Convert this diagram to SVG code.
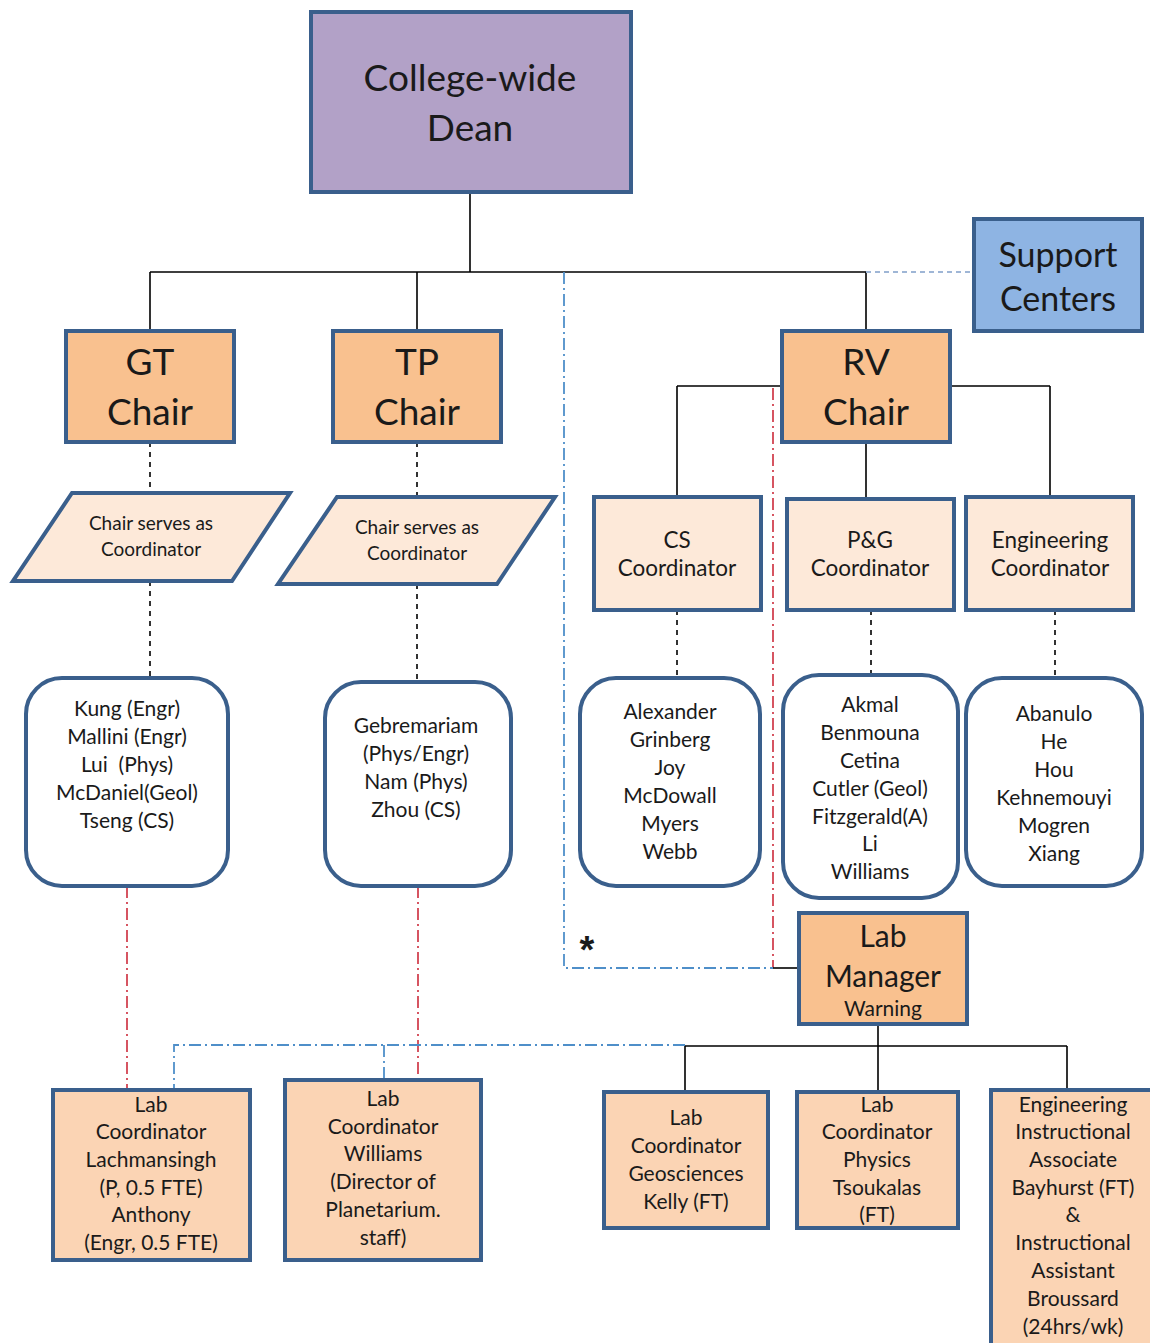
<svg xmlns="http://www.w3.org/2000/svg" width="1150" height="1343" viewBox="0 0 1150 1343">
  <style>
    text { font-family: Lato, "Open Sans", "Liberation Sans", sans-serif; fill: #1a1a1a; text-anchor: middle; dominant-baseline: central; }
    .box { stroke: #3a5f8c; stroke-width: 4; }
    .dean { fill: #b2a1c7; }
    .support { fill: #8eb4e3; }
    .chair { fill: #f9c18f; }
    .coord { fill: #fde9d9; }
    .lab { fill: #fbd4b4; }
    .list { fill: #ffffff; }
    .t34 { font-size: 37px; }
    .t36 { font-size: 37px; }
    .t32 { font-size: 34px; }
    .t30 { font-size: 30px; }
    .t22 { font-size: 22.5px; }
    .t21 { font-size: 21px; }
    .t17 { font-size: 19px; }
    .solid { stroke: #000; stroke-width: 1.6; fill: none; }
    .dash { stroke: #000; stroke-width: 1.6; fill: none; stroke-dasharray: 5 5; }
    .blue { stroke: #4f8fc9; stroke-width: 1.8; fill: none; stroke-dasharray: 12 4 2 4; }
    .bluedash { stroke: #9fb6d6; stroke-width: 2; fill: none; stroke-dasharray: 5 4; }
    .red { stroke: #cc2b3b; stroke-width: 1.6; fill: none; stroke-dasharray: 12 4 2 4; }
  </style>

  <!-- connectors -->
  <g id="connectors">
    <path class="solid" d="M470 192 V272 M150 272 H866 M150 272 V331 M417 272 V331 M866 272 V331"/>
    <path class="bluedash" d="M866 272 H974"/>
    <path class="solid" d="M677 386 H782 M950 386 H1050 M677 386 V497 M1050 386 V497 M866 442 V499"/>
    <path class="dash" d="M150 442 V493 M150 581 V678 M417 442 V497 M417 584 V682"/>
    <path class="dash" d="M677 610 V678 M871 610 V675 M1055 610 V678"/>
    <path class="red" d="M127 886 V1090 M418 886 V1085 M773 388 V968"/>
    <path class="blue" d="M564 272 V968 H773"/>
    <path class="solid" d="M773 968 H799"/>
    <path class="blue" d="M685 1045 H174 V1090 M384 1045 V1080"/>
    <path class="solid" d="M878 1013 V1092 M685 1046 H1067 M685 1046 V1092 M1067 1046 V1090"/>
  </g>

  <text x="587" y="950" style="font-size:38px;font-weight:bold;font-family:'Liberation Sans',sans-serif">*</text>

  <g id="dean">
    <rect class="box dean" x="311" y="12" width="320" height="180"/>
    <text class="t34" x="470" y="76">College-wide</text>
    <text class="t34" x="470" y="126">Dean</text>
  </g>

  <g id="support-centers">
    <rect class="box support" x="974" y="219" width="168" height="112"/>
    <text class="t32" x="1058" y="253">Support</text>
    <text class="t32" x="1058" y="297">Centers</text>
  </g>

  <g id="gt-chair">
    <rect class="box chair" x="66" y="331" width="168" height="111"/>
    <text class="t36" x="150" y="360">GT</text>
    <text class="t36" x="150" y="410">Chair</text>
  </g>
  <g id="tp-chair">
    <rect class="box chair" x="333" y="331" width="168" height="111"/>
    <text class="t36" x="417" y="360">TP</text>
    <text class="t36" x="417" y="410">Chair</text>
  </g>
  <g id="rv-chair">
    <rect class="box chair" x="782" y="331" width="168" height="111"/>
    <text class="t36" x="866" y="360">RV</text>
    <text class="t36" x="866" y="410">Chair</text>
  </g>

  <g id="gt-coordinator">
    <polygon class="box coord" points="72,493 290,493 232,581 13,581"/>
    <text class="t17" x="151" y="522">Chair serves as</text>
    <text class="t17" x="151" y="548">Coordinator</text>
  </g>
  <g id="tp-coordinator">
    <polygon class="box coord" points="337,497 555,497 497,584 278,584"/>
    <text class="t17" x="417" y="526">Chair serves as</text>
    <text class="t17" x="417" y="552">Coordinator</text>
  </g>

  <g id="cs-coordinator">
    <rect class="box coord" x="594" y="497" width="167" height="113"/>
    <text class="t22" x="677" y="539">CS</text>
    <text class="t22" x="677" y="567">Coordinator</text>
  </g>
  <g id="pg-coordinator">
    <rect class="box coord" x="787" y="499" width="167" height="111"/>
    <text class="t22" x="870" y="539">P&amp;G</text>
    <text class="t22" x="870" y="567">Coordinator</text>
  </g>
  <g id="eng-coordinator">
    <rect class="box coord" x="966" y="497" width="167" height="113"/>
    <text class="t22" x="1050" y="539">Engineering</text>
    <text class="t22" x="1050" y="567">Coordinator</text>
  </g>

  <g id="gt-faculty">
    <rect class="box list" x="26" y="678" width="202" height="208" rx="36"/>
    <text class="t21" x="127" y="707">Kung (Engr)</text>
    <text class="t21" x="127" y="735">Mallini (Engr)</text>
    <text class="t21" x="127" y="763" xml:space="preserve">Lui  (Phys)</text>
    <text class="t21" x="127" y="791">McDaniel(Geol)</text>
    <text class="t21" x="127" y="819">Tseng (CS)</text>
  </g>
  <g id="tp-faculty">
    <rect class="box list" x="325" y="682" width="186" height="204" rx="36"/>
    <text class="t21" x="416" y="724">Gebremariam</text>
    <text class="t21" x="416" y="752">(Phys/Engr)</text>
    <text class="t21" x="416" y="780">Nam (Phys)</text>
    <text class="t21" x="416" y="808">Zhou (CS)</text>
  </g>
  <g id="cs-faculty">
    <rect class="box list" x="580" y="678" width="180" height="208" rx="36"/>
    <text class="t21" x="670" y="710">Alexander</text>
    <text class="t21" x="670" y="738">Grinberg</text>
    <text class="t21" x="670" y="766">Joy</text>
    <text class="t21" x="670" y="794">McDowall</text>
    <text class="t21" x="670" y="822">Myers</text>
    <text class="t21" x="670" y="850">Webb</text>
  </g>
  <g id="pg-faculty">
    <rect class="box list" x="783" y="675" width="175" height="223" rx="36"/>
    <text class="t21" x="870" y="703">Akmal</text>
    <text class="t21" x="870" y="731">Benmouna</text>
    <text class="t21" x="870" y="759">Cetina</text>
    <text class="t21" x="870" y="787">Cutler (Geol)</text>
    <text class="t21" x="870" y="815">Fitzgerald(A)</text>
    <text class="t21" x="870" y="842">Li</text>
    <text class="t21" x="870" y="870">Williams</text>
  </g>
  <g id="eng-faculty">
    <rect class="box list" x="966" y="678" width="176" height="208" rx="36"/>
    <text class="t21" x="1054" y="712">Abanulo</text>
    <text class="t21" x="1054" y="740">He</text>
    <text class="t21" x="1054" y="768">Hou</text>
    <text class="t21" x="1054" y="796">Kehnemouyi</text>
    <text class="t21" x="1054" y="824">Mogren</text>
    <text class="t21" x="1054" y="852">Xiang</text>
  </g>

  <g id="lab-manager">
    <rect class="box chair" x="799" y="913" width="168" height="111"/>
    <text class="t30" x="883" y="935">Lab</text>
    <text class="t30" x="883" y="975">Manager</text>
    <text class="t21" x="883" y="1007">Warning</text>
  </g>

  <g id="lab-coord-gt">
    <rect class="box lab" x="53" y="1090" width="197" height="170"/>
    <text class="t21" x="151" y="1103">Lab</text>
    <text class="t21" x="151" y="1130">Coordinator</text>
    <text class="t21" x="151" y="1158">Lachmansingh</text>
    <text class="t21" x="151" y="1186">(P, 0.5 FTE)</text>
    <text class="t21" x="151" y="1213">Anthony</text>
    <text class="t21" x="151" y="1241">(Engr, 0.5 FTE)</text>
  </g>
  <g id="lab-coord-tp">
    <rect class="box lab" x="285" y="1080" width="196" height="180"/>
    <text class="t21" x="383" y="1097">Lab</text>
    <text class="t21" x="383" y="1125">Coordinator</text>
    <text class="t21" x="383" y="1152">Williams</text>
    <text class="t21" x="383" y="1180">(Director of</text>
    <text class="t21" x="383" y="1208">Planetarium.</text>
    <text class="t21" x="383" y="1236">staff)</text>
  </g>
  <g id="lab-coord-geo">
    <rect class="box lab" x="604" y="1092" width="164" height="136"/>
    <text class="t21" x="686" y="1116">Lab</text>
    <text class="t21" x="686" y="1144">Coordinator</text>
    <text class="t21" x="686" y="1172">Geosciences</text>
    <text class="t21" x="686" y="1200">Kelly (FT)</text>
  </g>
  <g id="lab-coord-phys">
    <rect class="box lab" x="797" y="1092" width="161" height="136"/>
    <text class="t21" x="877" y="1103">Lab</text>
    <text class="t21" x="877" y="1130">Coordinator</text>
    <text class="t21" x="877" y="1158">Physics</text>
    <text class="t21" x="877" y="1186">Tsoukalas</text>
    <text class="t21" x="877" y="1213">(FT)</text>
  </g>
  <g id="eng-instructional">
    <rect class="box lab" x="991" y="1090" width="162" height="260"/>
    <text class="t21" x="1073" y="1103">Engineering</text>
    <text class="t21" x="1073" y="1130">Instructional</text>
    <text class="t21" x="1073" y="1158">Associate</text>
    <text class="t21" x="1073" y="1186">Bayhurst (FT)</text>
    <text class="t21" x="1073" y="1213">&amp;</text>
    <text class="t21" x="1073" y="1241">Instructional</text>
    <text class="t21" x="1073" y="1269">Assistant</text>
    <text class="t21" x="1073" y="1297">Broussard</text>
    <text class="t21" x="1073" y="1325">(24hrs/wk)</text>
  </g>
</svg>
